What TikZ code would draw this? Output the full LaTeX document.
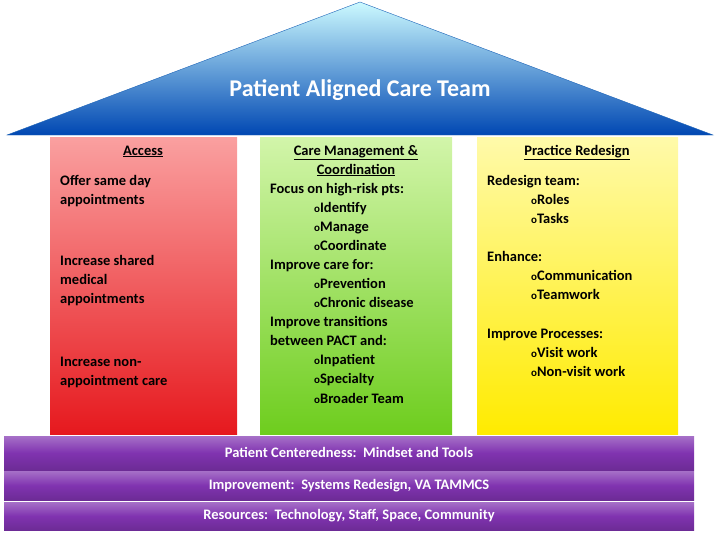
\documentclass[tikz,border=0pt]{standalone}
\usepackage{fontspec}
\setmainfont{Carlito}
\begin{document}
\begin{tikzpicture}[x=1pt,y=-1pt,
 txt/.style={anchor=base west,inner sep=0pt,font=\fontsize{14.5}{17}\selectfont\bfseries},
 hd/.style={anchor=base,inner sep=0pt,font=\fontsize{14.5}{17}\selectfont\bfseries},
 bar/.style={draw=violet!60!black,top color=violet!60!white,bottom color=violet!90!black,middle color=violet!80},
 bartxt/.style={inner sep=0pt,font=\fontsize{14.5}{17}\selectfont\bfseries,text=white}]
\definecolor{purp}{HTML}{8033B0}
\useasboundingbox (0,0) rectangle (720,533);
% roof
\shade[top color=blue!10!cyan!20,bottom color=blue!60!cyan!70!black,draw=cyan!40!blue] (360,2) -- (713,135) -- (7,135) -- cycle;
\node[inner sep=0pt,font=\fontsize{24}{28}\selectfont\bfseries,text=white] (title) at (360,90) {Patient Aligned Care Team};
% pillars
\shade[top color={rgb,255:red,250;green,160;blue,160},bottom color={rgb,255:red,230;green,25;blue,30}] (50,137) rectangle (237,434);
\shade[top color={rgb,255:red,210;green,245;blue,170},bottom color={rgb,255:red,110;green,205;blue,30}] (260,137) rectangle (452,434);
\shade[top color={rgb,255:red,255;green,250;blue,170},bottom color={rgb,255:red,255;green,235;blue,0}] (477,137) rectangle (678,434);
% bars
\foreach \a/\b in {436/470,471/500,502/530}
  \shade[top color=purp!70!white,bottom color=purp!85!black,middle color=purp] (4,\a) rectangle (694,\b);
\node[bartxt] (b1) at (349,452) {Patient Centeredness:\ \ Mindset and Tools};
\node[bartxt] (b2) at (349,486) {Improvement:\ \ Systems Redesign, VA TAMMCS};
\node[bartxt] (b3) at (349,516) {Resources:\ \ Technology, Staff, Space, Community};
% red
\node[hd] (h1) at (143,155) {\underline{Access}};
\node[txt] (r1) at (60,185) {Offer same day};
\node[txt] (r2) at (60,204) {appointments};
\node[txt] (r3) at (60,265) {Increase shared};
\node[txt] (r4) at (60,284) {medical};
\node[txt] (r5) at (60,303) {appointments};
\node[txt] (r6) at (60,366) {Increase non-};
\node[txt] (r7) at (60,385) {appointment care};
% green
\node[hd] (h2) at (356,155) {\underline{Care Management \&}};
\node[hd] (h2b) at (356,174) {\underline{Coordination}};
\node[txt] (g1) at (270,193) {Focus on high-risk pts:};
\node[txt] (g2) at (314,212) {\fontsize{11}{12}\selectfont o\fontsize{14.5}{17}\selectfont Identify};
\node[txt] (g3) at (314,231) {\fontsize{11}{12}\selectfont o\fontsize{14.5}{17}\selectfont Manage};
\node[txt] (g4) at (314,250) {\fontsize{11}{12}\selectfont o\fontsize{14.5}{17}\selectfont Coordinate};
\node[txt] (g5) at (270,269) {Improve care for:};
\node[txt] (g6) at (314,288) {\fontsize{11}{12}\selectfont o\fontsize{14.5}{17}\selectfont Prevention};
\node[txt] (g7) at (314,307) {\fontsize{11}{12}\selectfont o\fontsize{14.5}{17}\selectfont Chronic disease};
\node[txt] (g8) at (270,326) {Improve transitions};
\node[txt] (g9) at (270,345) {between PACT and:};
\node[txt] (g10) at (314,364) {\fontsize{11}{12}\selectfont o\fontsize{14.5}{17}\selectfont Inpatient};
\node[txt] (g11) at (314,383) {\fontsize{11}{12}\selectfont o\fontsize{14.5}{17}\selectfont Specialty};
\node[txt] (g12) at (314,403) {\fontsize{11}{12}\selectfont o\fontsize{14.5}{17}\selectfont Broader Team};
% yellow
\node[hd] (h3) at (577,155) {\underline{Practice Redesign}};
\node[txt] (y1) at (487,185) {Redesign team:};
\node[txt] (y2) at (531,204) {\fontsize{11}{12}\selectfont o\fontsize{14.5}{17}\selectfont Roles};
\node[txt] (y3) at (531,223) {\fontsize{11}{12}\selectfont o\fontsize{14.5}{17}\selectfont Tasks};
\node[txt] (y4) at (487,261) {Enhance:};
\node[txt] (y5) at (531,280) {\fontsize{11}{12}\selectfont o\fontsize{14.5}{17}\selectfont Communication};
\node[txt] (y6) at (531,299) {\fontsize{11}{12}\selectfont o\fontsize{14.5}{17}\selectfont Teamwork};
\node[txt] (y7) at (487,338) {Improve Processes:};
\node[txt] (y8) at (531,357) {\fontsize{11}{12}\selectfont o\fontsize{14.5}{17}\selectfont Visit work};
\node[txt] (y9) at (531,376) {\fontsize{11}{12}\selectfont o\fontsize{14.5}{17}\selectfont Non-visit work};
\end{tikzpicture}
\end{document}
